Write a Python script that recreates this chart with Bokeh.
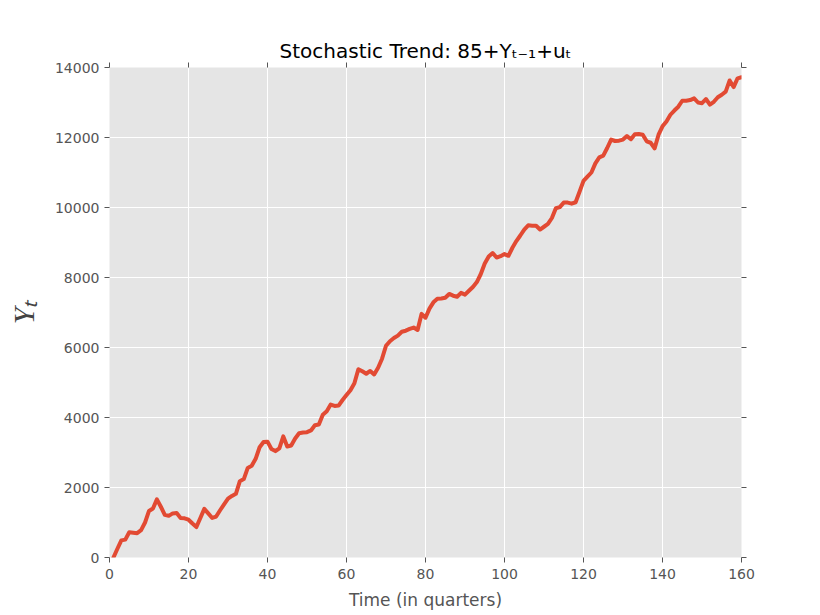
from bokeh.plotting import figure
from bokeh.models import Range1d, LinearAxis, FixedTicker, CustomJSTickFormatter
from bokeh.embed import file_html
from bokeh.resources import INLINE

# ---- data ----
quarters = list(range(1, 161))
values = [
    0, 250, 490, 510, 720, 710, 695, 780, 1000, 1330,
    1400, 1660, 1450, 1220, 1190, 1260, 1270, 1130, 1120, 1080,
    970, 870, 1130, 1390, 1260, 1130, 1170, 1350, 1520, 1680,
    1760, 1820, 2180, 2240, 2560, 2620, 2820, 3150, 3300, 3310,
    3100, 3040, 3120, 3460, 3170, 3200, 3400, 3550, 3570, 3580,
    3630, 3780, 3800, 4080, 4180, 4370, 4330, 4340, 4500, 4640,
    4780, 4980, 5380, 5320, 5250, 5330, 5230, 5420, 5680, 6050,
    6180, 6270, 6340, 6450, 6480, 6530, 6570, 6500, 6960, 6850,
    7110, 7290, 7390, 7400, 7420, 7530, 7480, 7450, 7560, 7510,
    7620, 7730, 7870, 8100, 8400, 8600, 8700, 8570, 8610, 8670,
    8620, 8850, 9040, 9200, 9370, 9490, 9480, 9480, 9370, 9450,
    9530, 9700, 9980, 10010, 10140, 10140, 10110, 10150, 10450, 10760,
    10880, 11000, 11260, 11430, 11480, 11700, 11940, 11900, 11910, 11940,
    12040, 11950, 12090, 12100, 12080, 11890, 11850, 11690, 12080, 12320,
    12460, 12650, 12770, 12880, 13050, 13050, 13070, 13120, 13000, 12980,
    13100, 12940, 13020, 13150, 13220, 13310, 13630, 13440, 13690, 13720,
]
x_ticks = [0, 20, 40, 60, 80, 100, 120, 140, 160]
y_ticks = [0, 2000, 4000, 6000, 8000, 10000, 12000, 14000]

title_text = "Stochastic Trend: 85+Y\u209c\u208b\u2081+u\u209c"
x_label = "Time (in quarters)"
y_label = "Y\u209c"

# ---- figure ----
p = figure(width=820, height=615, frame_width=632, frame_height=490,
           x_range=Range1d(0, 160), y_range=Range1d(0, 14000),
           output_backend="svg", toolbar_location=None,
           min_border_left=109, min_border_right=79,
           min_border_top=67, min_border_bottom=58,
           background_fill_color="#e5e5e5", border_fill_color="white",
           outline_line_color=None)

TICK = "#555555"
FONT = "DejaVu Sans"

def style_axis(ax):
    ax.axis_line_color = None
    ax.major_tick_line_color = TICK
    ax.major_tick_line_width = 1
    ax.major_tick_in = 0
    ax.major_tick_out = 5
    ax.minor_tick_line_color = None
    ax.major_label_text_color = TICK
    ax.major_label_text_font = FONT
    ax.major_label_text_font_size = "14px"

p.xaxis.ticker = FixedTicker(ticks=x_ticks)
p.yaxis.ticker = FixedTicker(ticks=y_ticks)
style_axis(p.xaxis[0])
style_axis(p.yaxis[0])
p.xaxis.major_label_standoff = 6
p.yaxis.major_label_standoff = 5

p.xaxis.axis_label = x_label
p.xaxis.axis_label_text_font = FONT
p.xaxis.axis_label_text_font_size = "17px"
p.xaxis.axis_label_text_font_style = "normal"
p.xaxis.axis_label_text_color = TICK
p.xaxis.axis_label_standoff = 8

p.yaxis.axis_label = y_label
p.yaxis.axis_label_text_font = "Liberation Serif"
p.yaxis.axis_label_text_font_size = "30px"
p.yaxis.axis_label_text_font_style = "italic"
p.yaxis.axis_label_text_color = "#444444"
p.yaxis.axis_label_standoff = 12

blank = CustomJSTickFormatter(code="return ''")
top = LinearAxis(ticker=FixedTicker(ticks=x_ticks), formatter=blank)
right = LinearAxis(ticker=FixedTicker(ticks=y_ticks), formatter=blank)
style_axis(top)
style_axis(right)
top.major_label_standoff = 0
p.add_layout(top, "above")
p.add_layout(right, "right")

p.title.text = title_text
p.title.align = "center"
p.title.text_font = FONT
p.title.text_font_size = "20px"
p.title.text_font_style = "normal"
p.title.text_color = "black"
p.title.standoff = 0

p.xgrid.ticker = FixedTicker(ticks=x_ticks)
p.ygrid.ticker = FixedTicker(ticks=y_ticks)
for g in (p.xgrid[0], p.ygrid[0]):
    g.grid_line_color = "white"
    g.grid_line_width = 1

p.line(quarters, values, line_color="#E24A33", line_width=4,
       line_join="round", line_cap="round")

open("out.html", "w").write(file_html(p, INLINE))
